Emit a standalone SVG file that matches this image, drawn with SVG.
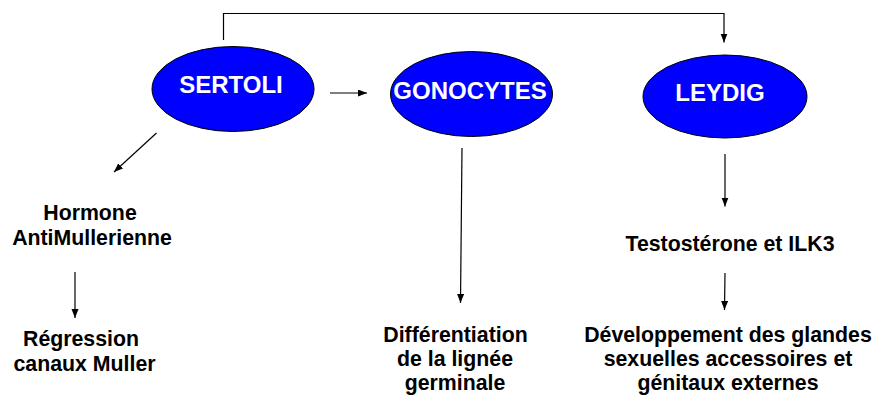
<svg xmlns="http://www.w3.org/2000/svg" width="877" height="396" viewBox="0 0 877 396">
<style>
.node ellipse{fill:#0000ff;stroke:#000;stroke-width:1}
.lbl{font-family:"Liberation Sans",Arial,sans-serif;font-weight:bold;font-size:24px;fill:#fff;text-anchor:middle}
.txt{font-family:"Liberation Sans",Arial,sans-serif;font-weight:bold;font-size:21.3px;fill:#000;text-anchor:middle}
#connectors path,#connectors line{stroke:#000;stroke-width:1.2;fill:none}
</style>
<defs>
<marker id="arr" markerUnits="userSpaceOnUse" markerWidth="10" markerHeight="8" refX="9" refY="3.5" orient="auto">
<path d="M0,0 L9,3.5 L0,7 z" fill="#000"/>
</marker>
</defs>
<rect width="877" height="396" fill="#fff"/>
<g id="connectors">
<path d="M223.5,40 V13.5 H724 V42.5" marker-end="url(#arr)"/>
<line x1="330" y1="93" x2="367" y2="93" marker-end="url(#arr)"/>
<line x1="156.5" y1="133" x2="114" y2="172" marker-end="url(#arr)"/>
<line x1="75" y1="272" x2="75" y2="318" marker-end="url(#arr)"/>
<line x1="462" y1="148" x2="460.5" y2="303" marker-end="url(#arr)"/>
<line x1="725" y1="154" x2="725" y2="206.5" marker-end="url(#arr)"/>
<line x1="725" y1="273" x2="724.5" y2="310" marker-end="url(#arr)"/>
</g>
<g id="sertoli" class="node">
<ellipse cx="233" cy="89" rx="81" ry="42.5"/>
<text class="lbl" x="231" y="93">SERTOLI</text>
</g>
<g id="gonocytes" class="node">
<ellipse cx="471.5" cy="94" rx="81" ry="42.5"/>
<text class="lbl" x="470" y="99">GONOCYTES</text>
</g>
<g id="leydig" class="node">
<ellipse cx="725" cy="96.5" rx="82" ry="41.5"/>
<text class="lbl" x="720" y="101">LEYDIG</text>
</g>
<g id="amh">
<text class="txt" x="90" y="219.5">Hormone</text>
<text class="txt" x="92" y="245">AntiMullerienne</text>
</g>
<g id="regression">
<text class="txt" x="81" y="346">Régression</text>
<text class="txt" x="84.5" y="371">canaux Muller</text>
</g>
<g id="differentiation">
<text class="txt" x="455.5" y="341.5">Différentiation</text>
<text class="txt" x="455" y="365.5">de la lignée</text>
<text class="txt" x="455" y="389.5">germinale</text>
</g>
<g id="testosterone">
<text class="txt" x="730" y="251">Testostérone et ILK3</text>
</g>
<g id="developpement">
<text class="txt" x="728" y="341.5">Développement des glandes</text>
<text class="txt" x="728" y="365.5">sexuelles accessoires et</text>
<text class="txt" x="728" y="389.5">génitaux externes</text>
</g>
</svg>
